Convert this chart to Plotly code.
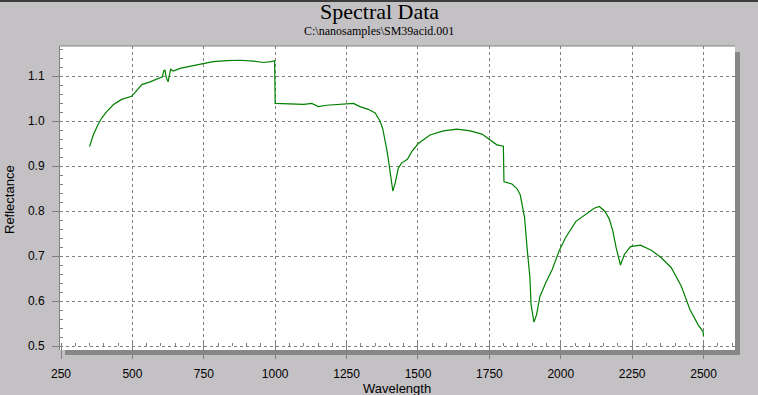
import plotly.graph_objects as go

# ---- data ----
wavelength = [350, 363, 378, 392, 410, 433, 462, 485, 497, 509, 520, 533, 562, 597, 605, 610, 614, 618,
              622, 625, 629, 634, 643, 667, 713, 752, 783, 830, 877, 924, 959, 985, 998, 1000,
              1030, 1064, 1100, 1128, 1151, 1180, 1216, 1251, 1274, 1297, 1326, 1350, 1367, 1376,
              1383, 1391, 1400, 1407, 1412, 1420, 1431, 1443, 1463, 1478, 1501, 1542, 1589, 1636,
              1683, 1724, 1752, 1776, 1799, 1801, 1829, 1846, 1858, 1867, 1873, 1882, 1892, 1896,
              1906, 1915, 1927, 1947, 1970, 1994, 2017, 2053, 2087, 2117, 2135, 2155, 2170, 2182,
              2194, 2209, 2223, 2244, 2279, 2317, 2352, 2387, 2422, 2452, 2481, 2498, 2500]
reflectance = [0.943, 0.969, 0.990, 1.006, 1.021, 1.036, 1.048, 1.053, 1.055, 1.063, 1.072, 1.081, 1.087,
               1.095, 1.098, 1.112, 1.113, 1.098, 1.092, 1.087, 1.100, 1.115, 1.111, 1.117, 1.123,
               1.128, 1.132, 1.134, 1.135, 1.133, 1.130, 1.132, 1.134, 1.039, 1.038, 1.037, 1.037,
               1.039, 1.032, 1.035, 1.037, 1.038, 1.039, 1.032, 1.026, 1.018, 1.000, 0.984, 0.962,
               0.936, 0.898, 0.864, 0.844, 0.862, 0.895, 0.907, 0.915, 0.932, 0.950, 0.969, 0.978,
               0.982, 0.978, 0.971, 0.959, 0.947, 0.944, 0.865, 0.860, 0.850, 0.836, 0.810, 0.786,
               0.718, 0.651, 0.592, 0.553, 0.569, 0.610, 0.640, 0.670, 0.711, 0.741, 0.777, 0.793,
               0.806, 0.810, 0.799, 0.782, 0.756, 0.718, 0.680, 0.704, 0.721, 0.724, 0.713, 0.696,
               0.674, 0.633, 0.581, 0.547, 0.532, 0.522]

x_ticks = [250, 500, 750, 1000, 1250, 1500, 1750, 2000, 2250, 2500]
y_ticks = [0.5, 0.6, 0.7, 0.8, 0.9, 1.0, 1.1]
y_tick_text = ["0.5", "0.6", "0.7", "0.8", "0.9", "1.0", "1.1"]

title_text = "Spectral Data"
subtitle_text = "C:\\nanosamples\\SM39acid.001"

# ---- figure ----
W, H = 758, 395
L, R, T, B = 60, 23, 46, 45
pw, ph = W - L - R, H - T - B


def px_x(p):
    return (p - L) / pw


def px_y(p):
    return (H - B - p) / ph


GRID = "#808080"
BG = "#C4C1C4"
SHADOW = "#878787"
sans = "Liberation Sans, Arial, sans-serif"
serif = "Liberation Serif, Times New Roman, serif"

fig = go.Figure()
fig.add_trace(go.Scatter(x=wavelength, y=reflectance, mode="lines",
                         line=dict(color="#008000", width=1.2), showlegend=False,
                         hoverinfo="skip"))

fig.update_layout(
    width=W, height=H,
    margin=dict(l=L, r=R, t=T, b=B),
    paper_bgcolor=BG, plot_bgcolor="white",
    font=dict(family=sans, size=12, color="black"),
    xaxis=dict(range=[246.5, 2610], tickvals=x_ticks, ticktext=[str(v) for v in x_ticks],
               showgrid=True, gridcolor=GRID, griddash="3px,3px", gridwidth=1,
               zeroline=False, showline=False,
               anchor="free", position=px_y(346),
               ticks="outside", ticklen=12, tickcolor=GRID, tickwidth=1,
               ticklabelstandoff=5,
               tickfont=dict(family=sans, size=12, color="black"),
               minor=dict(dtick=50, tick0=250, ticks="inside", ticklen=3, tickcolor=GRID,
                          showgrid=False)),
    yaxis=dict(range=[0.4911, 1.1667], tickvals=y_ticks, ticktext=y_tick_text,
               showgrid=True, gridcolor=GRID, griddash="3px,3px", gridwidth=1,
               zeroline=False, showline=True, linecolor=GRID, linewidth=1,
               ticks="outside", ticklen=7, tickcolor=GRID, tickwidth=1,
               ticklabelstandoff=5,
               tickfont=dict(family=sans, size=12, color="black"),
               minor=dict(dtick=0.02, tick0=0.5, ticks="inside", ticklen=3, tickcolor=GRID,
                          showgrid=False)),
)

# shadow, borders
fig.add_shape(type="rect", xref="paper", yref="paper", layer="below",
              x0=px_x(735), x1=px_x(740), y0=px_y(355), y1=px_y(52),
              fillcolor=SHADOW, line_width=0)
fig.add_shape(type="rect", xref="paper", yref="paper", layer="below",
              x0=px_x(65), x1=px_x(740), y0=px_y(355), y1=px_y(350),
              fillcolor=SHADOW, line_width=0)
fig.add_shape(type="line", xref="paper", yref="paper",
              x0=0, x1=1, y0=1, y1=1, line=dict(color=GRID, width=1))
fig.add_shape(type="rect", xref="paper", yref="paper", layer="above",
              x0=px_x(0), x1=px_x(W), y0=px_y(2), y1=px_y(0),
              fillcolor="#3C3C3C", line_width=0)

# texts
fig.add_annotation(text=title_text, xref="paper", yref="paper", x=px_x(379), y=px_y(12),
                   xanchor="center", yanchor="middle", showarrow=False,
                   font=dict(family=serif, size=22, color="black"))
fig.add_annotation(text=subtitle_text, xref="paper", yref="paper", x=px_x(379), y=px_y(31),
                   xanchor="center", yanchor="middle", showarrow=False,
                   font=dict(family=serif, size=12, color="black"))
fig.add_annotation(text="Reflectance", xref="paper", yref="paper", x=px_x(9), y=px_y(200),
                   xanchor="center", yanchor="middle", showarrow=False, textangle=-90,
                   font=dict(family=sans, size=13, color="black"))
fig.add_annotation(text="Wavelength", xref="paper", yref="paper", x=px_x(397), y=px_y(388),
                   xanchor="center", yanchor="middle", showarrow=False,
                   font=dict(family=sans, size=13, color="black"))

fig.write_html("out.html", config={"displayModeBar": False},
               post_script="document.body.style.margin='0';document.body.style.overflow='hidden';")
